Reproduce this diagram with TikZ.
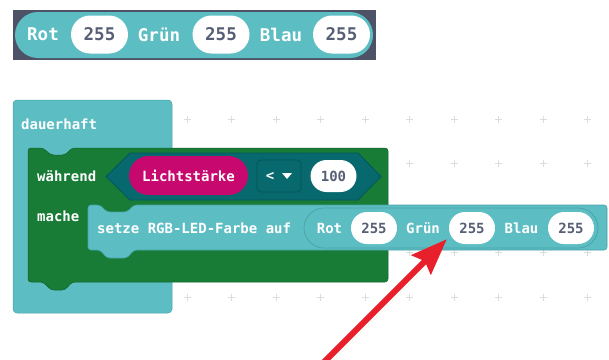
\documentclass[tikz,border=0pt]{standalone}
\usepackage{fontspec}
\setmonofont{DejaVu Sans Mono}
\usetikzlibrary{arrows.meta}
\usetikzlibrary{positioning}

\definecolor{blockteal}{HTML}{5CBEC3}
\definecolor{tealedge}{HTML}{48A2A7}
\definecolor{loopgreen}{HTML}{187C37}
\definecolor{hexteal}{HTML}{07686D}
\definecolor{hexedge}{HTML}{03565B}
\definecolor{sensorpink}{HTML}{C6086F}
\definecolor{numgrey}{HTML}{575E75}
\definecolor{bandgrey}{HTML}{4E5267}
\definecolor{gridgrey}{HTML}{DCDCDC}
\definecolor{arrowred}{HTML}{E8202B}

\tikzset{
  lbl/.style={font=\ttfamily\bfseries\fontsize{14}{16}\selectfont,text=white,inner sep=0pt},
  biglbl/.style={lbl,font=\ttfamily\bfseries\fontsize{17.5}{20}\selectfont},
  numoval/.style={fill=white,rounded corners=16pt,minimum width=46pt,minimum height=32pt,inner sep=0pt,
    font=\ttfamily\bfseries\fontsize{14}{16}\selectfont,text=numgrey},
  bignum/.style={numoval,rounded corners=19pt,minimum width=57pt,minimum height=38pt,
    font=\ttfamily\bfseries\fontsize{17.5}{20}\selectfont},
  sensorpill/.style={lbl,fill=sensorpink,rounded corners=19.5pt,minimum width=119pt,minimum height=39pt},
  dropbox/.style={fill=hexteal,draw=hexedge,line width=0.8pt,rounded corners=4pt,minimum width=44pt,minimum height=32pt,inner sep=0pt},
  rgbpill/.style={fill=blockteal,draw=tealedge,line width=0.7pt,rounded corners=20pt,minimum width=294pt,minimum height=40pt,inner sep=0pt},
  gridplus/.style={gridgrey,line width=0.7pt},
  pointer/.style={arrowred,line width=6pt,-{Stealth[length=36pt,width=27pt,inset=5pt]}}
}

\begin{document}
\begin{tikzpicture}[x=1pt,y=-1pt]
\useasboundingbox[fill=white] (0,0) rectangle (609,359);

\foreach \gx in {0,...,9}
  \foreach \gy in {0,...,4}
    \draw[gridplus] ({187+44.5*\gx-3.5},{119+44.5*\gy}) -- ++(7pt,0pt) ({187+44.5*\gx},{119+44.5*\gy-3.5}) -- ++(0pt,-7pt);

\fill[bandgrey] (13,10) rectangle (376,60);
\node[fill=blockteal,rounded corners=23pt,minimum width=358pt,minimum height=46pt,inner sep=0pt] (colTop) at (194,35) {};
\node[biglbl] (rotTop) at (43,34.5) {Rot};
\node[bignum] (rotValTop) at (99.5,34.5) {255};
\node[biglbl] (gruenTop) at (159,34.5) {Grün};
\node[bignum] (gruenValTop) at (221,34.5) {255};
\node[biglbl] (blauTop) at (281,34.5) {Blau};
\node[bignum] (blauValTop) at (341.5,34.5) {255};

\draw[fill=blockteal,draw=tealedge,line width=0.5pt,rounded corners=4pt] (13,100) rectangle (172,313);
\node[lbl,anchor=west] (forever) at (21,124) {dauerhaft};

\draw[fill=loopgreen,draw=loopgreen!80!black,line width=0.5pt,rounded corners=3pt]
  (28,148) -- (43,148) -- (51,155) -- (65,155) -- (72,148) -- (388,148) -- (388,282)
  -- (72,282) -- (65,290) -- (51,290) -- (43,282) -- (28,282) -- cycle;
\node[lbl,anchor=west] (while) at (37,176) {während};
\node[lbl,anchor=west] (do) at (37,216) {mache};

\draw[fill=hexteal,draw=hexedge,line width=0.8pt]
  (106,176.5) -- (130,153) -- (358,153) -- (381,176.5) -- (358,200) -- (130,200) -- cycle;
\node[sensorpill] (light) at (188.5,175.5) {Lichtstärke};
\node[dropbox] (op) at (279,176) {};
\node[lbl] (lt) at ([xshift=-9pt]op.center) {<};
\fill[white] ([xshift=3pt,yshift=3pt]op.center) -- ++(10pt,0pt) -- ++(-5pt,-6pt) -- cycle;
\node[numoval] (limit) at (333.5,176) {100};

\draw[fill=blockteal,draw=tealedge,line width=0.6pt,rounded corners=3pt]
  (88,205) -- (100,205) -- (107,212) -- (127,212) -- (134,205) -- (607,205) -- (607,250)
  -- (134,250) -- (127,258) -- (107,258) -- (100,250) -- (88,250) -- cycle;
\node[lbl,anchor=west] (setze) at (97,228) {setze RGB-LED-Farbe auf};
\node[rgbpill] (rgb) at (451,228) {};
\node[lbl] (rot) at (329.5,228) {Rot};
\node[numoval] (rotVal) at (374,228) {255};
\node[lbl] (gruen) at (423,228) {Grün};
\node[numoval] (gruenVal) at (472,228) {255};
\node[lbl] (blau) at (521.5,228) {Blau};
\node[numoval] (blauVal) at (571,228) {255};

\coordinate (tail) at (324,362);
\draw[pointer] (tail) -- ([xshift=-2pt,yshift=5pt]gruenVal.south west);

\end{tikzpicture}
\end{document}
